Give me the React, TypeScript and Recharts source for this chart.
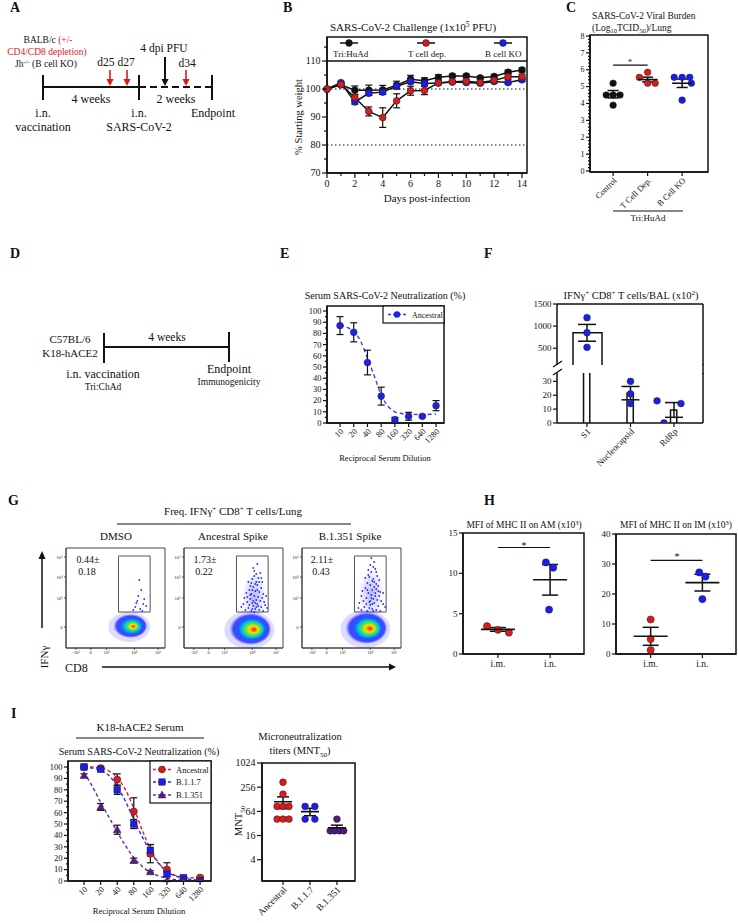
import React from 'react';
import {
  ComposedChart, Line, Scatter, Bar, XAxis, YAxis, ErrorBar, ReferenceLine, ReferenceArea,
} from 'recharts';

const FONT = '"Liberation Serif", "Times New Roman", Times, serif';
const INK = '#111111';
const RED = '#d81c1c';
const BLUE = '#1c1cf0';
const PURPLE = '#581a8f';

// B: weight after challenge (% starting weight)
const DAYS = [0, 1, 2, 3, 4, 5, 6, 7, 8, 9, 10, 11, 12, 13, 14];
const WT_TRI = [100, 101.5, 99.6, 99.6, 99.7, 101.4, 103.5, 103, 104.2, 104.7, 104.7, 104, 104.5, 106, 106.8];
const WT_TRI_ERR = [0, 0.6, 1.5, 1.8, 1.6, 1.4, 1.4, 1, 0.9, 0.6, 0.6, 0.5, 0.6, 0.7, 0.7];
const WT_TDEP = [100, 101.6, 97, 92, 89.8, 95.8, 99.4, 99.5, 102.2, 102.6, 102.8, 102.3, 103.1, 104.4, 104.4];
const WT_TDEP_ERR = [0, 0.5, 1, 1.6, 3.5, 2.5, 1.6, 1.5, 0.6, 0.5, 0.5, 0.5, 0.5, 0.9, 0.9];
const WT_BKO = [100, 102.3, 95.4, 98.5, 98.9, 101, 102.6, 102, 102.2, 102.5, 102.3, 102.1, 102.7, 102.3, 103.3];
const WT_BKO_ERR = [0, 0.4, 0.8, 0.8, 0.8, 0.8, 0.6, 0.6, 0.5, 0.4, 0.4, 0.4, 0.5, 0.5, 0.6];

// C: viral burden, log10 TCID50 / lung
const BURDEN_GROUPS = ['Control', 'T Cell Dep.', 'B Cell KO'];
const BURDEN_VALUES = [
  [5.2, 4.5, 4.5, 4.5, 3.9],
  [5.85, 5.55, 5.2, 5.2],
  [5.55, 5.55, 5.55, 5.2, 4.2],
];
const BURDEN_JITTER = [
  [0, -0.2, 0, 0.2, 0],
  [0, -0.24, 0, 0.22],
  [-0.23, 0, 0.22, 0.27, 0],
];
const BURDEN_MEAN = [4.55, 5.42, 5.2];
const BURDEN_SEM = [0.22, 0.14, 0.25];

// E / I: serum neutralization (%)
const DILUTIONS = ['10', '20', '40', '80', '160', '320', '640', '1280'];
const E_ANC = [87, 81, 54, 24, 3, 6, 6, 15.5];
const E_ANC_ERR = [8, 8.5, 11, 8, 2, 3.5, 1, 4.5];
const E_FIT_X = [0, 0.5, 1, 1.5, 2, 2.5, 3, 3.5, 4, 4.5, 5, 6, 7];
const E_FIT_Y = [87.5, 85.5, 82, 73, 58, 42, 25, 15, 10, 8.5, 8, 7.5, 8];

const I_ANC = [100, 99, 89, 61, 24, 10, 2, 3];
const I_ANC_ERR = [0.5, 1.5, 5, 12, 8, 6, 1, 1];
const I_B117 = [100, 98, 80, 50, 27, 6, 3, 0];
const I_B117_ERR = [1, 1, 4, 4, 5, 2, 1, 0.5];
const I_B1351 = [92.5, 65, 45, 18, 8, 0, 0, 0];
const I_B1351_ERR = [1.5, 3, 4, 2, 1, 0.5, 0, 0];
const I_FIT_X = [0, 0.5, 1, 1.5, 2, 2.5, 3, 3.5, 4, 4.5, 5, 5.5, 6, 7];
const I_FIT_ANC = [100.5, 100, 99, 96.5, 91, 80, 64, 45, 28, 16, 8.5, 5, 3.5, 2.5];
const I_FIT_B117 = [100, 99, 97, 92.5, 83, 70, 54, 39, 26, 15.5, 8.5, 4.5, 2.5, 0.5];
const I_FIT_B1351 = [95, 83, 69, 56, 43, 31, 20.5, 13, 7.5, 4.5, 2.5, 1.2, 0.5, 0];

// F: IFNg+ CD8+ T cells / BAL (x10^2)
const F_CATS = ['S1', 'Nucleocapsid', 'RdRp'];
const F_MEAN = [848, 21.5, 9.4];
const F_SEM = [190, 4.8, 5.3];
const F_POINTS = [[1190, 850, 520], [30, 21, 14], [16, 14, 0]];
const F_JITTER = [[0, 0, 0], [0, 0, 0], [-0.39, 0.16, -0.23]];

// G: flow plots (channel units 0-100)
const FLOW_TITLES = ['DMSO', 'Ancestral Spike', 'B.1.351 Spike'];
const FLOW_FREQ = ['0.44±', '1.73±', '2.11±'];
const FLOW_SD = ['0.18', '0.22', '0.43'];
const FLOW_X_TICKS = [10, 25, 41, 69, 93];
const FLOW_X_LABELS = ['-10³', '0', '10³', '10⁴', '10⁵'];
const FLOW_Y_TICKS = [21, 50, 71, 91];
const FLOW_Y_LABELS = ['0', '10³', '10⁴', '10⁵'];
const FLOW_CORE = [{ x: 65, y: 22 }, { x: 67, y: 19 }, { x: 65, y: 20 }];
const FLOW_CLOUD = [[], [{ x: 71, y: 52 }], [{ x: 70, y: 55 }]];
const FLOW_EVENTS = [
  [[74, 68], [76, 58], [72, 47], [78, 44], [70, 41], [75, 39], [81, 42], [68, 38], [77, 37], [73, 52], [79, 49], [71, 45]],
  [[62, 38], [65, 40], [68, 37], [70, 42], [72, 39], [74, 44], [76, 38], [78, 41], [80, 37], [82, 43],
    [64, 46], [67, 49], [69, 45], [71, 52], [73, 48], [75, 51], [77, 47], [79, 50], [81, 46], [84, 40],
    [63, 55], [66, 58], [68, 54], [70, 61], [72, 57], [74, 63], [76, 56], [78, 60], [80, 54], [60, 44],
    [65, 66], [69, 69], [71, 72], [73, 66], [75, 70], [77, 75], [70, 80], [74, 84], [67, 62], [79, 66],
    [58, 41], [83, 52], [61, 50], [72, 45], [75, 42], [66, 43], [69, 39], [73, 41], [71, 36], [67, 53],
    [70, 47], [74, 58], [72, 64], [76, 66], [69, 58], [64, 51], [78, 70], [71, 77], [73, 74], [68, 65]],
  [[60, 38], [63, 41], [66, 37], [69, 43], [71, 39], [73, 45], [75, 38], [77, 42], [79, 37], [82, 44],
    [62, 47], [65, 50], [68, 46], [70, 53], [72, 49], [74, 55], [76, 48], [78, 52], [80, 47], [84, 41],
    [61, 57], [64, 60], [67, 55], [69, 63], [71, 58], [73, 66], [75, 59], [77, 62], [79, 56], [58, 45],
    [64, 70], [67, 73], [70, 76], [72, 69], [74, 79], [76, 72], [69, 83], [73, 86], [66, 65], [78, 68],
    [57, 40], [82, 55], [60, 52], [71, 44], [75, 64], [70, 90], [65, 44], [68, 40], [72, 37], [70, 50],
    [66, 58], [73, 61], [71, 67], [68, 71], [75, 76], [72, 81], [67, 78], [74, 52], [69, 47], [77, 57]],
];
const FLOW_GATE = { x1: 53, x2: 85, y1: 36, y2: 92 };

// H: MFI of MHC II (x10^3)
const ROUTES = ['i.m.', 'i.n.'];
const AM_VALUES = [[3.45, 3.0, 2.65], [11.35, 10.7, 5.5]];
const AM_JITTER = [[-0.21, 0, 0.21], [-0.08, 0.06, -0.02]];
const AM_MEAN = [3.05, 9.2];
const AM_SEM = [0.23, 1.9];
const IMAC_VALUES = [[11.5, 5.0, 1.3], [27.2, 25.8, 18.3]];
const IMAC_JITTER = [[0, 0, 0], [-0.06, 0.06, 0]];
const IMAC_MEAN = [5.9, 23.8];
const IMAC_SEM = [3.0, 2.8];

// I (right): MNT50
const MNT_GROUPS = ['Ancestral', 'B.1.1.7', 'B.1.351'];
const MNT_VALUES = [
  [340, 171, 85, 85, 85, 41, 41, 41],
  [85, 85, 41, 41],
  [41, 21, 21, 21, 21],
];
const MNT_JITTER = [
  [0, 0, -0.22, 0, 0.22, -0.22, 0, 0.22],
  [-0.18, 0.18, -0.18, 0.18],
  [0, -0.25, -0.09, 0.09, 0.25],
];
const MNT_MEAN = [111, 63, 25];
const MNT_SEM = [36, 13, 4];
const MNT_TICKS = [4, 16, 64, 256, 1024];

// ---------- helpers ----------
type Pad = { l: number; r: number; t: number; b: number };
function frame(x0: number, y0: number, x1: number, y1: number, pad: Pad) {
  return {
    style: { position: 'absolute', left: x0 - pad.l, top: y0 - pad.t } as React.CSSProperties,
    width: x1 - x0 + pad.l + pad.r,
    height: y1 - y0 + pad.t + pad.b,
    margin: { top: pad.t, right: pad.r, bottom: 0, left: 0 },
  };
}

const AX: any = { tickSize: 0, tickMargin: 0, tickLine: false, axisLine: { stroke: INK, strokeWidth: 1.5 }, interval: 0 };
const BOX: any = { fill: 'none', fillOpacity: 0, stroke: INK, strokeWidth: 1.5, ifOverflow: 'visible' };

const isMajor = (v: number, major?: number) => major == null || Math.abs(v / major - Math.round(v / major)) < 1e-6;

function yTick(fs: number, o: { major?: number; len?: number; minorLen?: number; labels?: string[]; ticks?: number[]; color?: string } = {}) {
  const { major, len = 4, minorLen = 2, labels, ticks, color = INK } = o;
  return (p: any) => {
    const v = Number(p.payload.value);
    const mj = isMajor(v, major);
    const l = mj ? len : minorLen;
    const lab = labels && ticks ? labels[ticks.indexOf(v)] : String(v);
    return (
      <g>
        <line x1={p.x} x2={p.x - l} y1={p.y} y2={p.y} stroke={color} strokeWidth={color === INK ? 1.2 : 0.8} />
        {mj && (
          <text x={p.x - l - 1.5} y={p.y} dy="0.34em" textAnchor="end" fontSize={fs} fontFamily={FONT} fill={color}>{lab}</text>
        )}
      </g>
    );
  };
}

function xTick(fs: number, o: { major?: number; len?: number; minorLen?: number; labels?: string[]; ticks?: number[]; color?: string } = {}) {
  const { major, len = 4, minorLen = 2, labels, ticks, color = INK } = o;
  return (p: any) => {
    const v = Number(p.payload.value);
    const mj = isMajor(v, major);
    const l = mj ? len : minorLen;
    const lab = labels ? (ticks ? labels[ticks.indexOf(v)] : labels[Math.round(v)]) : String(v);
    return (
      <g>
        <line x1={p.x} x2={p.x} y1={p.y} y2={p.y + l} stroke={color} strokeWidth={color === INK ? 1.2 : 0.8} />
        {mj && (
          <text x={p.x} y={p.y + l + fs * 0.92} textAnchor="middle" fontSize={fs} fontFamily={FONT} fill={color}>{lab}</text>
        )}
      </g>
    );
  };
}

function xRotTick(fs: number, labels: string[], len = 4) {
  return (p: any) => {
    const v = Number(p.payload.value);
    return (
      <g>
        <line x1={p.x} x2={p.x} y1={p.y} y2={p.y + len} stroke={INK} strokeWidth={1.2} />
        <text transform={`translate(${p.x + 2},${p.y + len + 3}) rotate(-45)`} textAnchor="end" dy="0.34em"
          fontSize={fs} fontFamily={FONT} fill={INK}>{labels[Math.round(v)]}</text>
      </g>
    );
  };
}

const circle = (fill: string, r = 3.4) => (p: any) => (
  <circle cx={p.cx} cy={p.cy} r={r} fill={fill} stroke="#222" strokeWidth={0.5} />
);
const square = (fill: string, s = 6.8) => (p: any) => (
  <rect x={p.cx - s / 2} y={p.cy - s / 2} width={s} height={s} fill={fill} stroke="#222" strokeWidth={0.5} />
);
const triangle = (fill: string, s = 8) => (p: any) => (
  <polygon points={`${p.cx - s / 2},${p.cy + s * 0.38} ${p.cx + s / 2},${p.cy + s * 0.38} ${p.cx},${p.cy - s * 0.5}`} fill={fill} stroke="#222" strokeWidth={0.5} />
);
const meanLine = (hw: number) => (p: any) => (
  <line x1={p.cx - hw} x2={p.cx + hw} y1={p.cy} y2={p.cy} stroke={INK} strokeWidth={1.6} />
);
const nothing = () => <g />;

const OpenBar = (p: any) => {
  const { x, y, width, height } = p;
  if (x == null || y == null || !height) return <g />;
  return (
    <path d={`M${x},${y + height} L${x},${y} L${x + width},${y} L${x + width},${y + height}`}
      fill="#fff" stroke={INK} strokeWidth={1.5} />
  );
};

const points = (vals: number[][], jit: number[][]) =>
  vals.map((g, gi) => g.map((y, i) => ({ x: gi + jit[gi][i], y })));
const means = (mean: number[], sem: number[]) => mean.map((y, i) => ({ x: i, y, err: sem[i] }));
const series = (ys: number[], errs?: number[]) => ys.map((y, i) => ({ x: i, y, err: errs ? errs[i] : 0 }));
const curve = (xs: number[], ys: number[]) => xs.map((x, i) => ({ x, y: ys[i] }));

// ---------- B ----------
const WEIGHT_ROWS = DAYS.map((day, i) => ({
  day, tri: WT_TRI[i], triErr: WT_TRI_ERR[i], tdep: WT_TDEP[i], tdepErr: WT_TDEP_ERR[i], bko: WT_BKO[i], bkoErr: WT_BKO_ERR[i],
}));

function WeightChart() {
  const f = frame(327, 37, 527, 173, { l: 32, r: 4, t: 4, b: 24 });
  const xd = [0, 14.36];
  const yd = [70, 118.6];
  const lines: [string, string, string][] = [['tri', 'triErr', INK], ['bko', 'bkoErr', BLUE], ['tdep', 'tdepErr', RED]];
  return (
    <div style={f.style}>
      <ComposedChart width={f.width} height={f.height} margin={f.margin} data={WEIGHT_ROWS}>
        <XAxis type="number" dataKey="day" domain={xd} ticks={DAYS} height={24} {...AX}
          tick={xTick(10, { major: 2, len: 5, minorLen: 3 })} />
        <YAxis type="number" domain={yd} ticks={[70, 75, 80, 85, 90, 95, 100, 105, 110, 115]} width={32} {...AX}
          allowDataOverflow tick={yTick(10, { major: 10, len: 5, minorLen: 3 })} />
        <ReferenceArea x1={xd[0]} x2={xd[1]} y1={yd[0]} y2={yd[1]} {...BOX} />
        <ReferenceLine y={110} stroke={INK} strokeWidth={1.5} />
        <ReferenceLine y={100} stroke={INK} strokeWidth={1} strokeDasharray="1.5 2.5" />
        <ReferenceLine y={80} stroke={INK} strokeWidth={1} strokeDasharray="1.5 2.5" />
        {lines.map(([k, e, c]) => (
          <Line key={k} dataKey={k} type="linear" stroke={INK} strokeWidth={1.5} isAnimationActive={false} activeDot={false}
            dot={{ r: 3.4, fill: c, stroke: '#222', strokeWidth: 0.6 }}>
            <ErrorBar dataKey={e} width={3.5} stroke={INK} strokeWidth={1.2} />
          </Line>
        ))}
      </ComposedChart>
    </div>
  );
}

// ---------- C ----------
function BurdenChart() {
  const f = frame(590, 35, 708, 172, { l: 22, r: 4, t: 6, b: 42 });
  const xd = [-0.67, 2.75];
  const yd = [-0.06, 8.06];
  const yt: number[] = [];
  for (let i = 0; i <= 40; i++) yt.push(Math.round(i * 2) / 10);
  const pts = points(BURDEN_VALUES, BURDEN_JITTER);
  const cols = [INK, RED, BLUE];
  return (
    <div style={f.style}>
      <ComposedChart width={f.width} height={f.height} margin={f.margin}>
        <XAxis type="number" dataKey="x" domain={xd} ticks={[0, 1, 2]} height={42} {...AX} tick={xRotTick(8.5, BURDEN_GROUPS)} />
        <YAxis type="number" domain={yd} ticks={yt} width={22} {...AX} tick={yTick(8, { major: 1, len: 4, minorLen: 2 })} />
        <ReferenceArea x1={xd[0]} x2={xd[1]} y1={yd[0]} y2={yd[1]} {...BOX} />
        {pts.map((g, i) => (
          <Scatter key={i} data={g} dataKey="y" shape={circle(cols[i], 3.3)} isAnimationActive={false} />
        ))}
        <Scatter data={means(BURDEN_MEAN, BURDEN_SEM)} dataKey="y" shape={meanLine(10)} isAnimationActive={false}>
          <ErrorBar dataKey="err" direction="y" width={5.5} stroke={INK} strokeWidth={1.5} />
        </Scatter>
        <ReferenceLine segment={[{ x: 0, y: 6.27 }, { x: 1, y: 6.27 }]} stroke={INK} strokeWidth={1.2} />
      </ComposedChart>
    </div>
  );
}

// ---------- E ----------
function NeutEChart() {
  const f = frame(327, 306, 444, 423, { l: 24, r: 4, t: 5, b: 30 });
  const xd = [-0.95, 7.58];
  const yd = [0, 104.5];
  const yt: number[] = [];
  for (let v = 0; v <= 100; v += 5) yt.push(v);
  return (
    <div style={f.style}>
      <ComposedChart width={f.width} height={f.height} margin={f.margin}>
        <XAxis type="number" dataKey="x" domain={xd} ticks={[0, 1, 2, 3, 4, 5, 6, 7]} height={30} {...AX} tick={xRotTick(8.5, DILUTIONS)} />
        <YAxis type="number" domain={yd} ticks={yt} width={24} {...AX} allowDataOverflow tick={yTick(8.5, { major: 10, len: 4, minorLen: 2 })} />
        <ReferenceArea x1={xd[0]} x2={xd[1]} y1={yd[0]} y2={yd[1]} {...BOX} />
        <Line data={curve(E_FIT_X, E_FIT_Y)} dataKey="y" type="monotone" stroke="#3a3af5" strokeWidth={1.4}
          strokeDasharray="4 3" dot={false} activeDot={false} isAnimationActive={false} />
        <Scatter data={series(E_ANC, E_ANC_ERR)} dataKey="y" shape={circle('#2020e6', 3.4)} isAnimationActive={false}>
          <ErrorBar dataKey="err" direction="y" width={3.5} stroke={INK} strokeWidth={1.2} />
        </Scatter>
      </ComposedChart>
    </div>
  );
}

// ---------- F ----------
function TCellChart() {
  const xd = [-0.69, 2.667];
  const up = frame(557, 304, 703, 365, { l: 32, r: 4, t: 7, b: 0 });
  const lo = frame(557, 373, 703, 423, { l: 32, r: 4, t: 0, b: 48 });
  const rows = F_MEAN.map((m, i) => ({ x: i, mean: m, err: F_SEM[i] }));
  const pts = points(F_POINTS, F_JITTER);
  return (
    <>
      <div style={up.style}>
        <ComposedChart width={up.width} height={up.height} margin={up.margin} data={rows.slice(0, 1)}>
          <XAxis type="number" dataKey="x" domain={xd} hide />
          <YAxis type="number" domain={[120, 1500]} ticks={[500, 1000, 1500]} width={32} {...AX} allowDataOverflow
            tick={yTick(9, { len: 4 })} />
          <ReferenceLine y={1500} stroke={INK} strokeWidth={1.5} />
          <ReferenceLine x={xd[1]} stroke={INK} strokeWidth={1.5} />
          <Bar dataKey="mean" barSize={29} shape={OpenBar} isAnimationActive={false} />
          <Scatter data={pts[0]} dataKey="y" shape={circle('#1f1fe6', 3.4)} isAnimationActive={false} />
          <Scatter data={rows.slice(0, 1).map((r) => ({ x: r.x, y: r.mean, err: r.err }))} dataKey="y" shape={nothing} isAnimationActive={false}>
            <ErrorBar dataKey="err" direction="y" width={9} stroke={INK} strokeWidth={1.5} />
          </Scatter>
        </ComposedChart>
      </div>
      <div style={lo.style}>
        <ComposedChart width={lo.width} height={lo.height} margin={lo.margin} data={rows}>
          <XAxis type="number" dataKey="x" domain={xd} ticks={[0, 1, 2]} height={48} {...AX} tick={xRotTick(9, F_CATS)} />
          <YAxis type="number" domain={[0, 36]} ticks={[0, 10, 20, 30]} width={32} {...AX} allowDataOverflow
            tick={yTick(9, { len: 4 })} />
          <ReferenceLine x={xd[1]} stroke={INK} strokeWidth={1.5} />
          <Bar dataKey="mean" barSize={29} shape={OpenBar} isAnimationActive={false} />
          <Scatter data={[...pts[1], ...pts[2]]} dataKey="y" shape={circle('#1f1fe6', 3.4)} isAnimationActive={false} />
          <Scatter data={rows.slice(1).map((r) => ({ x: r.x, y: r.mean, err: r.err }))} dataKey="y" shape={nothing} isAnimationActive={false}>
            <ErrorBar dataKey="err" direction="y" width={9} stroke={INK} strokeWidth={1.5} />
          </Scatter>
        </ComposedChart>
      </div>
    </>
  );
}

// ---------- G ----------
const blob = (id: string, rx: number, ry: number, tight: boolean) => (p: any) => (
  <g>
    <defs>
      <radialGradient id={id} cx="50%" cy="50%" r="50%" fx="60%" fy="52%">
        <stop offset="0%" stopColor="#ff1500" />
        <stop offset={tight ? '8%' : '11%'} stopColor="#ff7a00" />
        <stop offset={tight ? '17%' : '22%'} stopColor="#f4e600" />
        <stop offset={tight ? '30%' : '35%'} stopColor="#5ee43a" />
        <stop offset={tight ? '43%' : '49%'} stopColor="#00c8d8" />
        <stop offset="64%" stopColor="#1f5cff" />
        <stop offset="84%" stopColor="#2a2aff" stopOpacity={0.85} />
        <stop offset="100%" stopColor="#4040ff" stopOpacity={0} />
      </radialGradient>
    </defs>
    <ellipse cx={p.cx - 1} cy={p.cy + 1} rx={rx + 4} ry={ry + 3} fill="#3b3bff" opacity={0.18} />
    <ellipse cx={p.cx} cy={p.cy} rx={rx} ry={ry} fill={`url(#${id})`} />
  </g>
);
const cloud = (id: string) => (p: any) => (
  <g>
    <defs>
      <radialGradient id={id} cx="50%" cy="50%" r="50%">
        <stop offset="0%" stopColor="#3030ff" stopOpacity={0.35} />
        <stop offset="100%" stopColor="#3030ff" stopOpacity={0} />
      </radialGradient>
    </defs>
    <ellipse cx={p.cx} cy={p.cy} rx={12} ry={24} fill={`url(#${id})`} />
  </g>
);
const evtDot = (p: any) => <circle cx={p.cx} cy={p.cy} r={0.9} fill="#2b2bff" />;

function FlowPanel({ idx, x0 }: { idx: number; x0: number }) {
  const f = frame(x0, 548, x0 + 99, 648, { l: 14, r: 2, t: 4, b: 12 });
  const thin: any = { ...AX, axisLine: { stroke: '#444', strokeWidth: 1 } };
  const ev = FLOW_EVENTS[idx].map(([x, y]) => ({ x, y }));
  return (
    <div style={f.style}>
      <ComposedChart width={f.width} height={f.height} margin={f.margin}>
        <XAxis type="number" dataKey="x" domain={[0, 100]} ticks={FLOW_X_TICKS} height={12} {...thin}
          tick={xTick(4.6, { len: 2, labels: FLOW_X_LABELS, ticks: FLOW_X_TICKS, color: '#333' })} />
        <YAxis type="number" domain={[0, 100]} ticks={FLOW_Y_TICKS} width={14} {...thin}
          tick={yTick(4.6, { len: 2, labels: FLOW_Y_LABELS, ticks: FLOW_Y_TICKS, color: '#333' })} />
        <ReferenceArea x1={0} x2={100} y1={0} y2={100} fill="none" stroke="#444" strokeWidth={1} ifOverflow="visible" />
        <Scatter data={FLOW_CLOUD[idx]} dataKey="y" isAnimationActive={false} shape={cloud(`flowcloud${idx}`)} />
        <Scatter data={[FLOW_CORE[idx]]} dataKey="y" isAnimationActive={false}
          shape={blob(`flowblob${idx}`, idx === 0 ? 17 : 21, idx === 0 ? 12 : 16, idx === 0)} />
        <Scatter data={ev} dataKey="y" shape={evtDot} isAnimationActive={false} />
        <ReferenceArea x1={FLOW_GATE.x1} x2={FLOW_GATE.x2} y1={FLOW_GATE.y1} y2={FLOW_GATE.y2}
          fill="none" stroke="#555" strokeWidth={1} ifOverflow="visible" />
      </ComposedChart>
    </div>
  );
}

// ---------- H ----------
function MfiChart({ box, yMax, ticks, values, jitter, mean, sem, sig }: {
  box: [number, number, number, number]; yMax: number; ticks: number[]; values: number[][]; jitter: number[][];
  mean: number[]; sem: number[]; sig: number;
}) {
  const f = frame(box[0], box[1], box[2], box[3], { l: 22, r: 4, t: 7, b: 20 });
  const xd = [-0.67, 1.65];
  const yd = [0, yMax];
  const pts = points(values, jitter);
  return (
    <div style={f.style}>
      <ComposedChart width={f.width} height={f.height} margin={f.margin}>
        <XAxis type="number" dataKey="x" domain={xd} ticks={[0, 1]} height={20} {...AX}
          tick={xTick(9.5, { len: 4, labels: ROUTES })} />
        <YAxis type="number" domain={yd} ticks={ticks} width={22} {...AX} tick={yTick(9, { len: 4 })} />
        <ReferenceArea x1={xd[0]} x2={xd[1]} y1={yd[0]} y2={yd[1]} {...BOX} />
        <Scatter data={pts[0]} dataKey="y" shape={circle(RED, 3.6)} isAnimationActive={false} />
        <Scatter data={pts[1]} dataKey="y" shape={circle(BLUE, 3.6)} isAnimationActive={false} />
        <Scatter data={means(mean, sem)} dataKey="y" shape={meanLine(17)} isAnimationActive={false}>
          <ErrorBar dataKey="err" direction="y" width={8} stroke={INK} strokeWidth={1.5} />
        </Scatter>
        <ReferenceLine segment={[{ x: 0, y: sig }, { x: 1, y: sig }]} stroke={INK} strokeWidth={1.2} />
      </ComposedChart>
    </div>
  );
}

// ---------- I ----------
function NeutIChart() {
  const f = frame(68, 761, 211, 881, { l: 26, r: 4, t: 5, b: 28 });
  const xd = [-0.97, 7.66];
  const yd = [0, 105.3];
  const yt: number[] = [];
  for (let v = 0; v <= 100; v += 5) yt.push(v);
  const sets: [number[], number[], number[], string, any][] = [
    [I_FIT_ANC, I_ANC, I_ANC_ERR, '#e82020', circle(RED, 3.6)],
    [I_FIT_B117, I_B117, I_B117_ERR, '#2030ee', square(BLUE, 6.6)],
    [I_FIT_B1351, I_B1351, I_B1351_ERR, '#6a2db0', triangle(PURPLE, 7.8)],
  ];
  return (
    <div style={f.style}>
      <ComposedChart width={f.width} height={f.height} margin={f.margin}>
        <XAxis type="number" dataKey="x" domain={xd} ticks={[0, 1, 2, 3, 4, 5, 6, 7]} height={28} {...AX} tick={xRotTick(8.5, DILUTIONS)} />
        <YAxis type="number" domain={yd} ticks={yt} width={26} {...AX} allowDataOverflow tick={yTick(8.5, { major: 10, len: 4, minorLen: 2 })} />
        <ReferenceArea x1={xd[0]} x2={xd[1]} y1={yd[0]} y2={yd[1]} {...BOX} />
        {sets.map(([fit, , , c], i) => (
          <Line key={`fit${i}`} data={curve(I_FIT_X, fit)} dataKey="y" type="monotone" stroke={c} strokeWidth={1.4}
            strokeDasharray="3.5 2.5" dot={false} activeDot={false} isAnimationActive={false} />
        ))}
        {sets.map(([, ys, errs, , shape], i) => (
          <Scatter key={`pts${i}`} data={series(ys, errs)} dataKey="y" shape={shape} isAnimationActive={false}>
            <ErrorBar dataKey="err" direction="y" width={3.5} stroke={INK} strokeWidth={1.2} />
          </Scatter>
        ))}
      </ComposedChart>
    </div>
  );
}

function MntChart() {
  const f = frame(262, 763, 355, 881, { l: 26, r: 4, t: 7, b: 42 });
  const xd = [-0.78, 2.67];
  const yd = [1.18, 1024];
  const pts = points(MNT_VALUES, MNT_JITTER);
  const cols = [RED, BLUE, '#4e1a7c'];
  return (
    <div style={f.style}>
      <ComposedChart width={f.width} height={f.height} margin={f.margin}>
        <XAxis type="number" dataKey="x" domain={xd} ticks={[0, 1, 2]} height={42} {...AX} tick={xRotTick(9.5, MNT_GROUPS)} />
        <YAxis type="number" scale="log" domain={yd} ticks={MNT_TICKS} width={26} {...AX} allowDataOverflow
          tick={yTick(10, { len: 5 })} />
        <ReferenceArea x1={xd[0]} x2={xd[1]} y1={yd[0]} y2={yd[1]} {...BOX} />
        {pts.map((g, i) => (
          <Scatter key={i} data={g} dataKey="y" shape={circle(cols[i], 3.4)} isAnimationActive={false} />
        ))}
        <Scatter data={means(MNT_MEAN, MNT_SEM)} dataKey="y" shape={meanLine(9)} isAnimationActive={false}>
          <ErrorBar dataKey="err" direction="y" width={6} stroke={INK} strokeWidth={1.5} />
        </Scatter>
      </ComposedChart>
    </div>
  );
}

// ---------- text, diagrams, legends ----------
function ArrowDown({ x, y0, y1, color, w = 1.6 }: { x: number; y0: number; y1: number; color: string; w?: number }) {
  return (
    <g>
      <line x1={x} x2={x} y1={y0} y2={y1 - 6} stroke={color} strokeWidth={w} />
      <polygon points={`${x - 3.6},${y1 - 7} ${x + 3.6},${y1 - 7} ${x},${y1}`} fill={color} />
    </g>
  );
}

function Overlay() {
  const letters: [string, number, number][] = [
    ['A', 10, 12], ['B', 283, 12], ['C', 566, 12], ['D', 10, 258], ['E', 280, 258], ['F', 484, 258],
    ['G', 8, 505], ['H', 484, 505], ['I', 11, 718],
  ];
  return (
    <svg width={738} height={923} style={{ position: 'absolute', left: 0, top: 0, pointerEvents: 'none' }}
      fontFamily={FONT} fill={INK}>
      {letters.map(([l, x, y]) => (
        <text key={l} x={x} y={y} fontSize={14} fontWeight="bold">{l}</text>
      ))}

      {/* A */}
      <g fontSize={9.5} textAnchor="middle">
        <text x={48} y={43}>BALB/c <tspan fill={RED}>(+/-</tspan></text>
        <text x={47} y={55} fill={RED}>CD4/CD8 depletion)</text>
        <text x={46} y={67}>Jh<tspan fontSize={6.5} dy={-3.5}>-/-</tspan><tspan dy={3.5}> (B cell KO)</tspan></text>
      </g>
      <line x1={43} x2={139} y1={87} y2={87} stroke={INK} strokeWidth={2} />
      <line x1={139} x2={212} y1={87} y2={87} stroke={INK} strokeWidth={2} strokeDasharray="7 4" />
      {[43, 139, 212].map((x) => <line key={x} x1={x} x2={x} y1={75} y2={100} stroke={INK} strokeWidth={2} />)}
      <ArrowDown x={110} y0={70} y1={86} color={RED} />
      <ArrowDown x={127} y0={70} y1={86} color={RED} />
      <ArrowDown x={165} y0={57} y1={86} color={INK} w={2} />
      <ArrowDown x={186} y0={70} y1={86} color={RED} />
      <g fontSize={12} textAnchor="middle">
        <text x={164} y={52} fontSize={11.5}>4 dpi PFU</text>
        <text x={116} y={66} fontSize={11.5}>d25 d27</text>
        <text x={187} y={67} fontSize={11.5}>d34</text>
        <text x={91} y={103}>4 weeks</text>
        <text x={176} y={103}>2 weeks</text>
        <text x={43} y={117}>i.n.</text>
        <text x={43} y={131}>vaccination</text>
        <text x={139} y={117}>i.n.</text>
        <text x={139} y={131}>SARS-CoV-2</text>
        <text x={213} y={117}>Endpoint</text>
      </g>

      {/* B */}
      <text x={413} y={31} fontSize={11} textAnchor="middle">
        SARS-CoV-2 Challenge (1x10<tspan fontSize={7.5} dy={-4}>5</tspan><tspan dy={4}> PFU)</tspan>
      </text>
      {([[349, INK], [426, RED], [503, BLUE]] as [number, string][]).map(([x, c]) => (
        <g key={x}>
          <line x1={x - 9} x2={x + 9} y1={43} y2={43} stroke={INK} strokeWidth={1.5} />
          <circle cx={x} cy={43} r={3.4} fill={c} stroke="#222" strokeWidth={0.6} />
        </g>
      ))}
      <g fontSize={9}>
        <text x={333} y={57}>Tri:HuAd</text>
        <text x={427} y={57} textAnchor="middle">T cell dep.</text>
        <text x={485} y={57}>B cell KO</text>
      </g>
      <text x={427} y={202} fontSize={11} textAnchor="middle">Days post-infection</text>
      <text transform="translate(302,117) rotate(-90)" fontSize={10.5} textAnchor="middle">% Starting weight</text>

      {/* C */}
      <text x={592} y={19} fontSize={9.5}>SARS-CoV-2 Viral Burden</text>
      <text x={592} y={31} fontSize={9.5}>
        (Log<tspan fontSize={6.5} dy={2}>10</tspan><tspan dy={-2}>TCID</tspan><tspan fontSize={6.5} dy={2}>50</tspan><tspan dy={-2}>)/Lung</tspan>
      </text>
      <text x={630} y={65} fontSize={8} textAnchor="middle">*</text>
      <line x1={613} x2={683} y1={211} y2={211} stroke={INK} strokeWidth={1.2} />
      <text x={648} y={221} fontSize={9} textAnchor="middle">Tri:HuAd</text>

      {/* D */}
      <line x1={104} x2={229} y1={347} y2={347} stroke={INK} strokeWidth={2} />
      <line x1={104} x2={104} y1={333} y2={363} stroke={INK} strokeWidth={2} />
      <line x1={229} x2={229} y1={332} y2={362} stroke={INK} strokeWidth={2} />
      <g textAnchor="middle">
        <text x={167} y={341} fontSize={11.5}>4 weeks</text>
        <text x={70} y={343} fontSize={11}>C57BL/6</text>
        <text x={70} y={357} fontSize={11}>K18-hACE2</text>
        <text x={103} y={378} fontSize={12}>i.n. vaccination</text>
        <text x={103} y={390} fontSize={9.5}>Tri:ChAd</text>
        <text x={229} y={373} fontSize={12}>Endpoint</text>
        <text x={229} y={385} fontSize={9.5}>Immunogenicity</text>
      </g>

      {/* E */}
      <text x={385} y={299} fontSize={10} textAnchor="middle">Serum SARS-CoV-2 Neutralization (%)</text>
      <rect x={383} y={306} width={61} height={17} fill="#fff" stroke={INK} strokeWidth={1.2} />
      <line x1={388} x2={406} y1={314.5} y2={314.5} stroke="#3a3af5" strokeWidth={1.4} strokeDasharray="3 2" />
      <circle cx={397} cy={314.5} r={3.2} fill="#2020e6" />
      <text x={412} y={317.5} fontSize={8}>Ancestral</text>
      <text x={385} y={461} fontSize={8.5} textAnchor="middle">Reciprocal Serum Dilution</text>

      {/* F */}
      <text x={631} y={299} fontSize={10.5} textAnchor="middle">
        IFNγ<tspan fontSize={7} dy={-4}>+</tspan><tspan dy={4}> CD8</tspan><tspan fontSize={7} dy={-4}>+</tspan>
        <tspan dy={4}> T cells/BAL (x10</tspan><tspan fontSize={7} dy={-4}>2</tspan><tspan dy={4}>)</tspan>
      </text>
      <line x1={553} x2={562} y1={367} y2={361} stroke={INK} strokeWidth={1.3} />
      <line x1={553} x2={562} y1={375} y2={369} stroke={INK} strokeWidth={1.3} />
      <line x1={703} x2={703} y1={364} y2={374} stroke={INK} strokeWidth={1.5} />

      {/* G */}
      <text x={233} y={515} fontSize={11} textAnchor="middle">
        Freq. IFNγ<tspan fontSize={7} dy={-4}>+</tspan><tspan dy={4}> CD8</tspan><tspan fontSize={7} dy={-4}>+</tspan>
        <tspan dy={4}> T cells/Lung</tspan>
      </text>
      <line x1={117} x2={351} y1={524} y2={524} stroke={INK} strokeWidth={1.2} />
      {FLOW_TITLES.map((t, i) => (
        <g key={t} textAnchor="middle">
          <text x={116 + i * 117} y={540} fontSize={11}>{t}</text>
          <text x={88 + i * 117} y={563} fontSize={10}>{FLOW_FREQ[i]}</text>
          <text x={87 + i * 117} y={575} fontSize={10}>{FLOW_SD[i]}</text>
        </g>
      ))}
      <line x1={42} x2={42} y1={628} y2={558} stroke={INK} strokeWidth={1.5} />
      <polygon points="38.5,559 45.5,559 42,551" fill={INK} />
      <text transform="translate(48,657) rotate(-90)" fontSize={11} textAnchor="middle">IFNγ</text>
      <line x1={102} x2={390} y1={667} y2={667} stroke={INK} strokeWidth={1.5} />
      <polygon points="389,663.5 389,670.5 396,667" fill={INK} />
      <text x={65} y={672} fontSize={12}>CD8</text>

      {/* H */}
      <text x={524} y={528} fontSize={9.5} textAnchor="middle">
        MFI of MHC II on AM (x10<tspan fontSize={6.5} dy={-3.5}>3</tspan><tspan dy={3.5}>)</tspan>
      </text>
      <text x={676} y={528} fontSize={9.5} textAnchor="middle">
        MFI of MHC II on IM (x10<tspan fontSize={6.5} dy={-3.5}>3</tspan><tspan dy={3.5}>)</tspan>
      </text>
      <text x={524} y={549} fontSize={10} textAnchor="middle">*</text>
      <text x={677} y={560} fontSize={10} textAnchor="middle">*</text>

      {/* I */}
      <text x={140} y={731} fontSize={11} textAnchor="middle">K18-hACE2 Serum</text>
      <line x1={76} x2={204} y1={738} y2={738} stroke={INK} strokeWidth={1.2} />
      <text x={139} y={755} fontSize={10} textAnchor="middle">Serum SARS-CoV-2 Neutralization (%)</text>
      <text x={139} y={914} fontSize={8.6} textAnchor="middle">Reciprocal Serum Dilution</text>
      <rect x={150} y={761} width={61} height={42} fill="#fff" stroke={INK} strokeWidth={1.2} />
      <line x1={153} x2={171} y1={769.5} y2={769.5} stroke="#e82020" strokeWidth={1.4} strokeDasharray="3 2" />
      <circle cx={162} cy={769.5} r={3.4} fill={RED} stroke="#222" strokeWidth={0.5} />
      <line x1={153} x2={171} y1={782} y2={782} stroke="#2030ee" strokeWidth={1.4} strokeDasharray="3 2" />
      <rect x={158.8} y={778.8} width={6.4} height={6.4} fill={BLUE} stroke="#222" strokeWidth={0.5} />
      <line x1={153} x2={171} y1={795} y2={795} stroke="#6a2db0" strokeWidth={1.4} strokeDasharray="3 2" />
      <polygon points="158.2,798 165.8,798 162,791" fill={PURPLE} stroke="#222" strokeWidth={0.5} />
      <g fontSize={8.5}>
        <text x={176} y={772.5}>Ancestral</text>
        <text x={176} y={785}>B.1.1.7</text>
        <text x={176} y={798}>B.1.351</text>
      </g>
      <text x={300} y={740} fontSize={10.5} textAnchor="middle">Microneutralization</text>
      <text x={300} y={754} fontSize={10.5} textAnchor="middle">
        titers (MNT<tspan fontSize={7} dy={2.5}>50</tspan><tspan dy={-2.5}>)</tspan>
      </text>
      <text transform="translate(242,821) rotate(-90)" fontSize={10.5} textAnchor="middle">
        MNT<tspan fontSize={7} dy={2.5}>50</tspan>
      </text>
    </svg>
  );
}

export default function App() {
  return (
    <div style={{ position: 'absolute', left: 0, top: 0, width: 738, height: 923, background: '#fff', overflow: 'hidden', fontFamily: FONT }}>
      <WeightChart />
      <BurdenChart />
      <NeutEChart />
      <TCellChart />
      {[66, 184, 302].map((x0, i) => <FlowPanel key={i} idx={i} x0={x0} />)}
      <MfiChart box={[463, 533, 584, 654]} yMax={15} ticks={[0, 5, 10, 15]} values={AM_VALUES} jitter={AM_JITTER}
        mean={AM_MEAN} sem={AM_SEM} sig={13.2} />
      <MfiChart box={[616, 534, 736, 654]} yMax={40} ticks={[0, 10, 20, 30, 40]} values={IMAC_VALUES} jitter={IMAC_JITTER}
        mean={IMAC_MEAN} sem={IMAC_SEM} sig={31.2} />
      <NeutIChart />
      <MntChart />
      <Overlay />
    </div>
  );
}
